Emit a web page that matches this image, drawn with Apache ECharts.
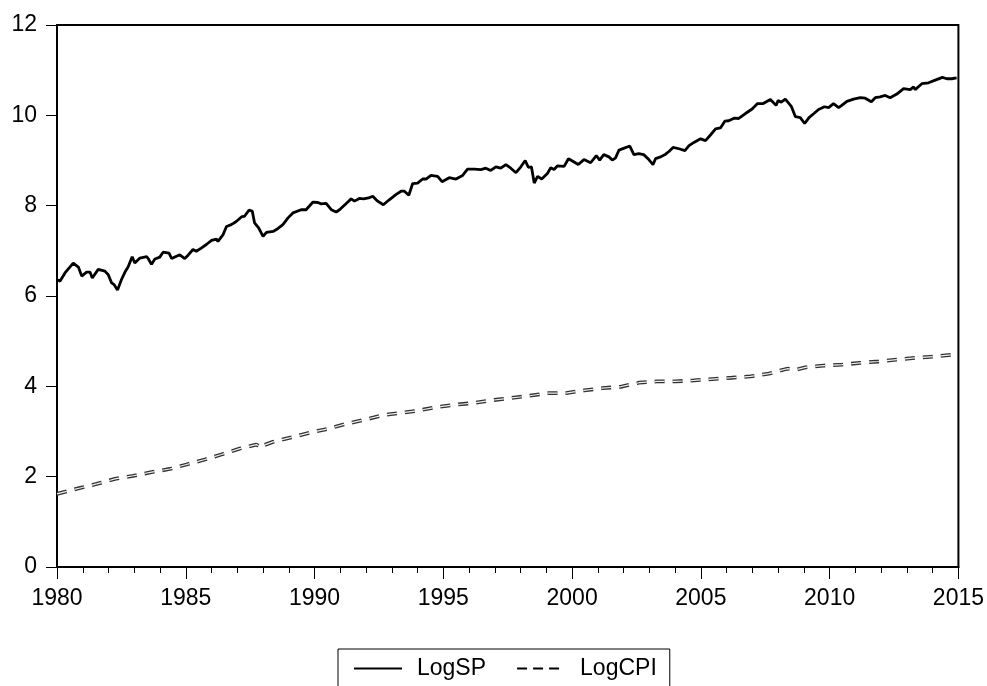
<!DOCTYPE html>
<html>
<head>
<meta charset="utf-8">
<script src="https://cdn.jsdelivr.net/npm/echarts@6/dist/echarts.min.js"></script>
<style>
html,body{margin:0;padding:0;background:#fff;}
#chart{width:987px;height:686px;}
</style>
</head>
<body>
<div id="chart"></div>
<script>
var xTicks = [1980, 1985, 1990, 1995, 2000, 2005, 2010, 2015];
var yTicks = [0, 2, 4, 6, 8, 10, 12];
var seriesNames = ['LogSP', 'LogCPI'];

var spYears = [1980.00,1980.12,1980.31,1980.63,1980.83,1980.96,1981.15,1981.28,1981.37,1981.60,1981.86,1981.99,1982.12,1982.22,1982.35,1982.50,1982.64,1982.76,1982.92,1983.02,1983.22,1983.48,1983.55,1983.67,1983.80,1983.99,1984.12,1984.35,1984.45,1984.64,1984.77,1984.96,1985.10,1985.28,1985.41,1985.60,1985.80,1986.00,1986.19,1986.25,1986.45,1986.58,1986.77,1986.96,1987.16,1987.29,1987.45,1987.58,1987.67,1987.83,1988.00,1988.13,1988.39,1988.52,1988.77,1988.97,1989.16,1989.22,1989.48,1989.67,1989.94,1990.13,1990.26,1990.45,1990.65,1990.84,1990.97,1991.23,1991.42,1991.55,1991.74,1991.90,1992.10,1992.26,1992.45,1992.67,1992.90,1993.17,1993.36,1993.49,1993.66,1993.81,1994.00,1994.20,1994.33,1994.52,1994.78,1994.95,1995.23,1995.49,1995.75,1995.94,1996.20,1996.46,1996.65,1996.84,1997.04,1997.23,1997.43,1997.62,1997.82,1998.01,1998.18,1998.30,1998.42,1998.53,1998.66,1998.82,1999.04,1999.17,1999.30,1999.43,1999.69,1999.86,2000.01,2000.24,2000.46,2000.72,2000.94,2001.07,2001.23,2001.43,2001.56,2001.69,2001.82,2002.05,2002.24,2002.40,2002.59,2002.78,2002.98,2003.14,2003.24,2003.44,2003.63,2003.76,2003.92,2004.15,2004.38,2004.54,2004.73,2004.99,2005.18,2005.38,2005.57,2005.76,2005.93,2006.08,2006.31,2006.47,2006.73,2006.99,2007.20,2007.42,2007.70,2007.92,2008.00,2008.12,2008.28,2008.51,2008.67,2008.86,2009.03,2009.20,2009.39,2009.57,2009.80,2009.96,2010.15,2010.35,2010.47,2010.67,2010.93,2011.19,2011.38,2011.62,2011.77,2011.96,2012.16,2012.35,2012.61,2012.87,2013.13,2013.26,2013.32,2013.58,2013.84,2014.10,2014.38,2014.55,2014.74,2014.93];
var logSP = [6.36,6.33,6.51,6.73,6.64,6.44,6.53,6.53,6.40,6.59,6.55,6.47,6.29,6.25,6.13,6.36,6.53,6.64,6.87,6.73,6.84,6.87,6.82,6.70,6.82,6.86,6.97,6.95,6.83,6.88,6.91,6.83,6.91,7.03,6.99,7.06,7.14,7.23,7.26,7.21,7.36,7.54,7.58,7.65,7.75,7.77,7.90,7.88,7.62,7.51,7.32,7.41,7.43,7.47,7.58,7.73,7.84,7.80,7.91,7.91,8.08,8.07,8.04,8.05,7.91,7.86,7.91,8.05,8.15,8.10,8.16,8.15,8.17,8.21,8.10,8.02,8.13,8.25,8.32,8.32,8.23,8.49,8.50,8.59,8.59,8.67,8.65,8.53,8.62,8.59,8.67,8.81,8.81,8.80,8.83,8.78,8.86,8.83,8.91,8.83,8.73,8.86,9.00,8.85,8.86,8.50,8.65,8.59,8.71,8.84,8.80,8.88,8.87,9.04,8.99,8.91,9.02,8.95,9.11,9.01,9.13,9.08,9.01,9.06,9.23,9.28,9.32,9.13,9.15,9.13,9.02,8.91,9.04,9.08,9.14,9.20,9.29,9.26,9.22,9.33,9.40,9.48,9.44,9.57,9.70,9.72,9.87,9.88,9.94,9.93,10.04,10.14,10.26,10.26,10.35,10.22,10.33,10.29,10.36,10.20,9.97,9.95,9.82,9.95,10.04,10.13,10.19,10.17,10.26,10.17,10.22,10.31,10.36,10.39,10.38,10.30,10.39,10.41,10.44,10.39,10.47,10.59,10.57,10.63,10.57,10.70,10.72,10.78,10.84,10.81,10.81,10.83];

var cpiYears = [1980.00,1980.90,1981.54,1982.25,1982.96,1983.67,1984.38,1985.03,1985.74,1986.38,1987.09,1987.74,1987.95,1988.05,1988.38,1989.10,1989.80,1990.52,1991.23,1991.94,1992.65,1993.30,1994.00,1994.72,1995.43,1996.14,1996.85,1997.62,1998.33,1999.04,1999.76,2000.47,2001.17,2001.88,2002.60,2003.30,2004.02,2004.73,2005.44,2006.20,2006.92,2007.64,2008.35,2008.70,2009.06,2009.77,2010.48,2011.19,2011.90,2012.60,2013.31,2014.03,2014.74,2015.00];
var logCPI = [1.62,1.75,1.84,1.95,2.02,2.10,2.17,2.27,2.38,2.49,2.62,2.71,2.64,2.70,2.77,2.87,2.97,3.06,3.17,3.26,3.36,3.41,3.46,3.54,3.59,3.63,3.69,3.74,3.79,3.85,3.85,3.91,3.96,3.99,4.08,4.11,4.11,4.13,4.16,4.19,4.22,4.28,4.39,4.37,4.42,4.46,4.48,4.52,4.55,4.59,4.63,4.66,4.70,4.70];

function zip(xs, ys) { return xs.map(function (x, i) { return [x, ys[i]]; }); }

var FONT = '"Liberation Sans", Arial, sans-serif';
var noSymbol = {color: 'rgba(0,0,0,0)', borderColor: 'rgba(0,0,0,0)', borderWidth: 0};
var chart = echarts.init(document.getElementById('chart'), null, {renderer: 'canvas'});
chart.setOption({
  animation: false,
  backgroundColor: '#fff',
  textStyle: {fontFamily: FONT},
  grid: {left: 57, right: 27, top: 25, bottom: 119, show: true, borderColor: '#000', borderWidth: 2, backgroundColor: 'transparent'},
  xAxis: {
    type: 'value', min: xTicks[0], max: xTicks[xTicks.length - 1], interval: 5,
    axisLine: {show: true, onZero: false, lineStyle: {color: '#000', width: 2}},
    axisTick: {show: true, length: 12, lineStyle: {color: '#000', width: 1}},
    minorTick: {show: true, splitNumber: 5, length: 6, lineStyle: {color: '#000', width: 1}},
    splitLine: {show: false}, minorSplitLine: {show: false},
    axisLabel: {fontSize: 23, color: '#000', margin: 20, fontFamily: FONT, formatter: function (v) { return String(v); }}
  },
  yAxis: {
    type: 'value', min: yTicks[0], max: yTicks[yTicks.length - 1], interval: 2,
    axisLine: {show: true, onZero: false, lineStyle: {color: '#000', width: 2}},
    axisTick: {show: true, length: 11, lineStyle: {color: '#000', width: 1}},
    splitLine: {show: false},
    axisLabel: {fontSize: 23, color: '#000', margin: 20, fontFamily: FONT, padding: [0, 0, 6, 0]}
  },
  legend: {
    data: [
      {name: seriesNames[0], lineStyle: {color: '#000', width: 2, type: 'solid'}, itemStyle: noSymbol},
      {name: seriesNames[1], lineStyle: {color: '#000', width: 2, type: [10, 6]}, itemStyle: noSymbol}
    ],
    left: 338, top: 649, orient: 'horizontal',
    itemWidth: 48, itemHeight: 14, itemGap: 30,
    padding: [8, 13, 24, 15],
    borderColor: '#000', borderWidth: 1,
    textStyle: {fontSize: 23, color: '#000', fontFamily: FONT, padding: [0, 0, 0, 10]}
  },
  series: [
    {
      name: seriesNames[0], type: 'line', data: zip(spYears, logSP),
      symbol: 'none', showSymbol: false, smooth: false, z: 5,
      lineStyle: {color: '#000', width: 2.8}, itemStyle: {color: '#000'}
    },
    {
      name: seriesNames[1], type: 'line', data: zip(cpiYears, logCPI),
      symbol: 'none', showSymbol: false, smooth: false, z: 3,
      lineStyle: {color: '#333', width: 3.8, type: [10, 8]}, itemStyle: {color: '#000'}
    },
    {
      name: 'LogCPI_inner', type: 'line', data: zip(cpiYears, logCPI),
      symbol: 'none', showSymbol: false, smooth: false, silent: true, z: 4,
      lineStyle: {color: '#f0f0f0', width: 1.2, type: [10, 8]}, itemStyle: {color: '#fff'}
    }
  ]
});
</script>
</body>
</html>
